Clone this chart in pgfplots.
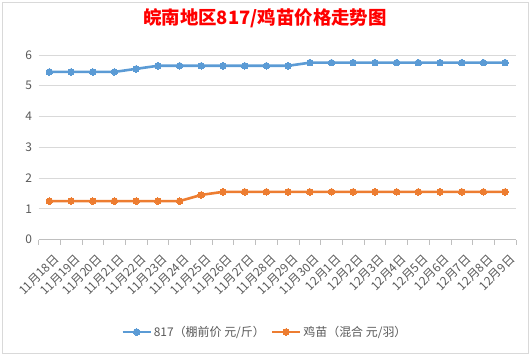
\documentclass[border=0pt]{standalone}
\usepackage{fontspec}
\setmainfont{Noto Sans CJK SC}
\usepackage{pgfplots}
\pgfplotsset{compat=1.18}
\definecolor{blu}{HTML}{5B9BD5}
\definecolor{ora}{HTML}{ED7D31}
\definecolor{grd}{HTML}{D9D9D9}
\definecolor{axl}{HTML}{BFBFBF}
\definecolor{txt}{HTML}{595959}
\begin{document}
\begin{tikzpicture}[x=1bp,y=1bp]
\path[use as bounding box] (0,0) rectangle (531,357);
\draw[grd,line width=0.75bp] (2.5,3.5) rectangle (528,354.5);
\node[text=red,font=\fontsize{18.5}{20}\selectfont\bfseries] at (265,339) {皖南地区817/鸡苗价格走势图};
\begin{axis}[
  at={(38.5bp,117.5bp)}, anchor=south west,
  scale only axis, width=477.5bp, height=184.5bp,
  xmin=-0.5, xmax=21.5, ymin=0, ymax=6,
  ytick={0,1,2,3,4,5,6},
  xtick={0,...,21},
  xticklabels={11月18日,11月19日,11月20日,11月21日,11月22日,11月23日,11月24日,11月25日,11月26日,11月27日,11月28日,11月29日,11月30日,12月1日,12月2日,12月3日,12月4日,12月5日,12月6日,12月7日,12月8日,12月9日},
  minor xtick={-0.5,0.5,...,21.5},
  major tick length=0pt,
  minor tick length=5bp,
  tick align=outside,
  minor tick style={axl,line width=0.75bp},
  axis x line*=bottom, axis y line*=left,
  x axis line style={axl,line width=0.75bp,-},
  y axis line style={draw=none},
  ymajorgrids, grid style={grd,line width=0.75bp},
  /pgf/number format/assume math mode=true,
  ticklabel style={font=\fontsize{12}{14}\selectfont, text=txt},
  yticklabel style={xshift=-3bp},
  xticklabel style={xshift=4bp,yshift=-14bp,rotate=45,anchor=north east,inner sep=0pt,text height=9bp,text depth=1bp},
  legend columns=2,
  legend style={draw=none, at={(0.474,-0.501)}, anchor=center, font=\fontsize{12}{14}\selectfont, text=txt,
    /tikz/every even column/.append style={column sep=4bp}},
  legend image code/.code={\draw[mark repeat=2,mark phase=2,#1] plot coordinates {(0bp,0bp)(14bp,0bp)(28bp,0bp)};},
]
\addplot[blu, line width=2.6bp, mark=*, mark size=3.3bp, mark options={fill=blu,draw=blu,line width=0bp}] coordinates {
(0,5.45)(1,5.45)(2,5.45)(3,5.45)(4,5.55)(5,5.65)(6,5.65)(7,5.65)(8,5.65)(9,5.65)(10,5.65)(11,5.65)
(12,5.75)(13,5.75)(14,5.75)(15,5.75)(16,5.75)(17,5.75)(18,5.75)(19,5.75)(20,5.75)(21,5.75)};
\addlegendentry{817（棚前价 元/斤）}
\addplot[ora, line width=2.6bp, mark=*, mark size=3.3bp, mark options={fill=ora,draw=ora,line width=0bp}] coordinates {
(0,1.25)(1,1.25)(2,1.25)(3,1.25)(4,1.25)(5,1.25)(6,1.25)(7,1.45)(8,1.55)(9,1.55)(10,1.55)(11,1.55)
(12,1.55)(13,1.55)(14,1.55)(15,1.55)(16,1.55)(17,1.55)(18,1.55)(19,1.55)(20,1.55)(21,1.55)};
\addlegendentry{鸡苗（混合 元/羽）}
\end{axis}
\end{tikzpicture}
\end{document}
